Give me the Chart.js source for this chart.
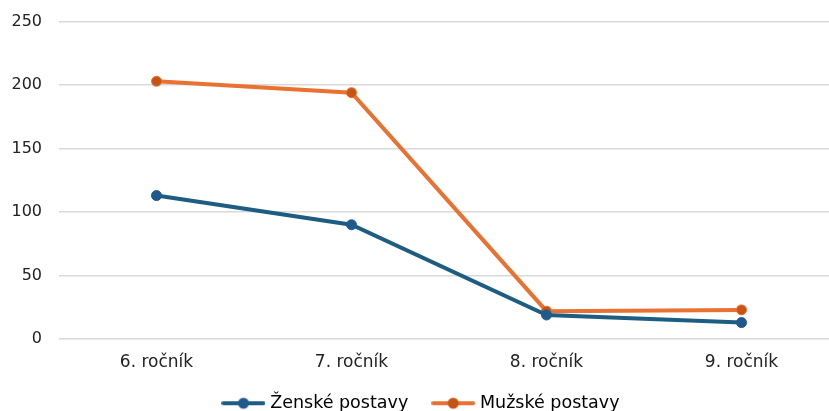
<!DOCTYPE html>
<html>
<head>
<meta charset="utf-8">
<script src="https://cdn.jsdelivr.net/npm/chart.js@4/dist/chart.umd.min.js"></script>
<style>
  html, body { margin: 0; padding: 0; background: #fff; overflow: hidden; }
  #wrap { width: 845px; height: 427px; position: relative; top: -5px; }
</style>
</head>
<body>
<div id="wrap"><canvas id="graf"></canvas></div>
<script>
const rocniky = ['6. ročník', '7. ročník', '8. ročník', '9. ročník'];
const zenske = [113, 90, 19, 13];
const muzske = [203, 194, 22, 23];

Chart.defaults.color = '#222';
Chart.defaults.font.family = '"DejaVu Sans", sans-serif';
Chart.defaults.font.size = 16;

function legendIcon(lineColor, dotColor) {
    const c = document.createElement('canvas');
    c.width = 44; c.height = 14;
    const g = c.getContext('2d');
    g.strokeStyle = lineColor;
    g.lineWidth = 4;
    g.lineCap = 'round';
    g.beginPath(); g.moveTo(2, 7); g.lineTo(42, 7); g.stroke();
    g.fillStyle = dotColor;
    g.beginPath(); g.arc(22, 7, 5.5, 0, Math.PI * 2); g.fill();
    return c;
}

const ikony = [legendIcon('#1d5d82', '#1f5a8c'), legendIcon('#e97132', '#c65414')];

new Chart(document.getElementById('graf'), {
    type: 'line',
    data: {
        labels: rocniky,
        datasets: [{
            label: 'Ženské postavy',
            data: zenske,
            borderColor: '#1d5d82',
            borderWidth: 4,
            pointBackgroundColor: '#1f5a8c',
            pointBorderColor: '#1f5a8c',
            pointRadius: 5,
            pointBorderWidth: 1
        }, {
            label: 'Mužské postavy',
            data: muzske,
            borderColor: '#e97132',
            borderWidth: 4,
            pointBackgroundColor: '#c65414',
            pointBorderColor: '#e97132',
            pointRadius: 5,
            pointBorderWidth: 1
        }]
    },
    options: {
        responsive: true,
        maintainAspectRatio: false,
        animation: false,
        layout: { padding: { left: 0, right: 0, top: 0, bottom: 0 } },
        plugins: {
            legend: {
                position: 'bottom',
                labels: {
                    usePointStyle: true,
                    pointStyleWidth: 36,
                    boxHeight: 14,
                    padding: 27,
                    font: { size: 17.5 },
                    generateLabels(chart) {
                        return chart.data.datasets.map((ds, i) => ({
                            text: ds.label,
                            pointStyle: ikony[i],
                            fillStyle: ds.borderColor,
                            strokeStyle: ds.borderColor,
                            lineWidth: 0,
                            hidden: false,
                            datasetIndex: i
                        }));
                    }
                }
            },
            tooltip: { enabled: false }
        },
        scales: {
            y: {
                min: 0,
                max: 250,
                ticks: { stepSize: 50, padding: 17 },
                grid: { color: '#d9d9d9', lineWidth: 1.5, drawTicks: false },
                border: { display: false },
                afterFit(scale) { scale.width = 59; }
            },
            x: {
                offset: true,
                ticks: { padding: 13, maxRotation: 0, font: { size: 17 } },
                grid: { display: false, drawTicks: false },
                border: { display: false },
                afterFit(scale) { scale.height -= 18; }
            }
        }
    }
});
</script>
</body>
</html>
